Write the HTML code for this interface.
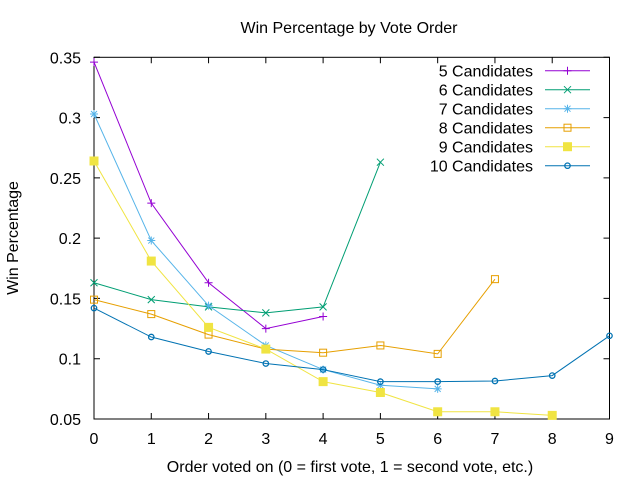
<!DOCTYPE html>
<html><head><meta charset="utf-8"><style>
body{margin:0;background:#fff}
svg{display:block;font-family:"Liberation Sans",sans-serif}
</style></head><body>
<svg id="chart" width="640" height="480">
<text x="349" y="33" font-size="16" text-anchor="middle">Win Percentage by Vote Order</text>
<text x="350" y="472" font-size="16" text-anchor="middle">Order voted on (0 = first vote, 1 = second vote, etc.)</text>
<text transform="translate(18,238) rotate(-90)" font-size="16" text-anchor="middle">Win Percentage</text>
<g id="axes"></g><g id="series"></g><g id="legend"></g>
</svg>
<script>
const xTicks=[0,1,2,3,4,5,6,7,8,9];
const yTicks=[0.05,0.1,0.15,0.2,0.25,0.3,0.35];
const yTickLabels=["0.05","0.1","0.15","0.2","0.25","0.3","0.35"];
const seriesNames=["5 Candidates","6 Candidates","7 Candidates","8 Candidates","9 Candidates","10 Candidates"];
const s5=[0.346,0.229,0.163,0.125,0.135];
const s6=[0.163,0.149,0.143,0.138,0.143,0.263];
const s7=[0.303,0.198,0.144,0.111,0.091,0.078,0.075];
const s8=[0.149,0.137,0.120,0.108,0.105,0.111,0.104,0.166];
const s9=[0.264,0.181,0.126,0.108,0.081,0.072,0.056,0.056,0.053];
const s10=[0.142,0.118,0.106,0.096,0.091,0.081,0.081,0.0815,0.086,0.119];
const allSeries=[s5,s6,s7,s8,s9,s10];
const colors=["#9400d3","#009e73","#56b4e9","#e69f00","#f0e442","#0072b2"];
const markers=["plus","cross","star","square","fsquare","circle"];
const L=94,R=609.5,T=57.3,B=419;
const xs=v=>L+(v-0)/(9-0)*(R-L);
const ys=v=>B-(v-0.05)/(0.35-0.05)*(B-T);
const NS="http://www.w3.org/2000/svg";
function mk(tag,attrs,parent){const e=document.createElementNS(NS,tag);for(const k in attrs)e.setAttribute(k,attrs[k]);parent.appendChild(e);return e;}
const axes=document.getElementById('axes');
xTicks.forEach(t=>{
  const x=xs(t);
  const tk=mk('path',{d:`M${x},${B}v-6M${x},${T}v6`,stroke:'#000','stroke-width':1},axes);
  
  
  const lb=mk('text',{x:x,y:B+25,'font-size':16,'text-anchor':'middle'},axes);
  lb.textContent=t;
  
  
});
yTicks.forEach((t,i)=>{
  const y=ys(t);
  const tk=mk('path',{d:`M${L},${y}h6M${R},${y}h-6`,stroke:'#000','stroke-width':1},axes);
  
  
  const lb=mk('text',{x:81,y:y+6,'font-size':16,'text-anchor':'end'},axes);
  lb.textContent=yTickLabels[i];
  
  
});
const frame=mk('rect',{x:L,y:T,width:R-L,height:B-T,fill:'none',stroke:'#000','stroke-width':1},axes);


function marker(g,type,x,y,c){
  let e;
  if(type==='plus')e=mk('path',{d:`M${x-4},${y}h8M${x},${y-4}v8`,stroke:c,fill:'none'},g);
  else if(type==='cross')e=mk('path',{d:`M${x-3.5},${y-3.5}l7,7M${x-3.5},${y+3.5}l7,-7`,stroke:c,fill:'none'},g);
  else if(type==='star')e=mk('path',{d:`M${x-4},${y}h8M${x},${y-4}v8M${x-3},${y-3}l6,6M${x-3},${y+3}l6,-6`,stroke:c,fill:'none'},g);
  else if(type==='square')e=mk('rect',{x:x-3.5,y:y-3.5,width:7,height:7,stroke:c,fill:'none'},g);
  else if(type==='fsquare')e=mk('rect',{x:x-4.5,y:y-4.5,width:9,height:9,fill:c},g);
  else e=mk('circle',{cx:x,cy:y,r:2.7,stroke:c,fill:'none','stroke-width':1.3},g);
  
  
}
const sg=document.getElementById('series');
allSeries.forEach((s,i)=>{
  const g=mk('g',{},sg);
  
  
  const pl=mk('polyline',{points:s.map((v,j)=>xs(j)+','+ys(v)).join(' '),fill:'none',stroke:colors[i],'stroke-width':1},g);
  
  
  s.forEach((v,j)=>marker(g,markers[i],xs(j),ys(v),colors[i]));
});
const lg=document.getElementById('legend');
seriesNames.forEach((n,i)=>{
  const y=70.7+i*19;
  const g=mk('g',{},lg);
  
  
  const t=mk('text',{x:533,y:y+6,'font-size':16,'text-anchor':'end'},g);
  t.textContent=n;
  
  
  const l=mk('line',{x1:545,x2:590,y1:y,y2:y,stroke:colors[i]},g);
  
  
  marker(g,markers[i],567.5,y,colors[i]);
});
</script>
</body></html>
